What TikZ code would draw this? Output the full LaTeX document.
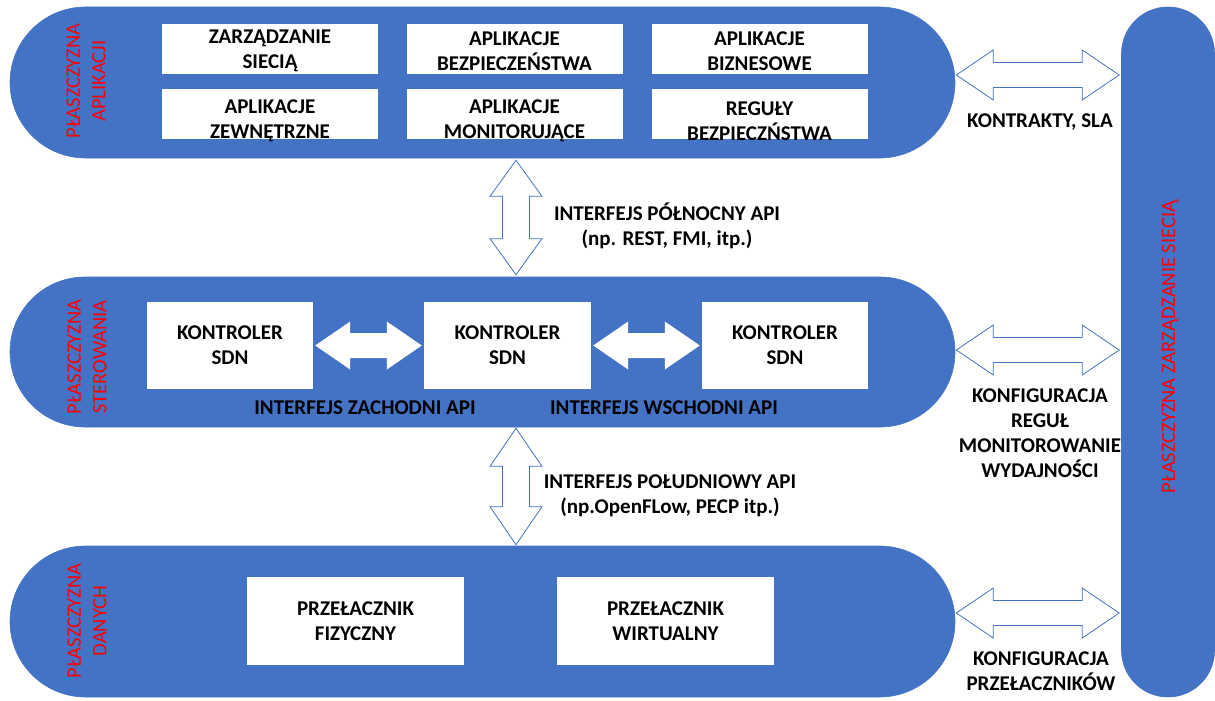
\documentclass[tikz,border=0pt]{standalone}
\usepackage{fontspec}
\setmainfont{Carlito}
\usetikzlibrary{shapes.misc,calc}
\definecolor{planeblue}{HTML}{4472C4}
\definecolor{planered}{HTML}{FF0000}

% horizontal double block arrow: style, left tip, right tip, head length, head half-height, shaft half-height
\newcommand\hdarrow[6]{%
  \path[#1] let \p1=(#2), \p2=(#3) in
    (\x1,\y1) -- (\x1+#4,\y1+#5) -- (\x1+#4,\y1+#6) -- (\x2-#4,\y1+#6)
    -- (\x2-#4,\y1+#5) -- (\x2,\y1) -- (\x2-#4,\y1-#5) -- (\x2-#4,\y1-#6)
    -- (\x1+#4,\y1-#6) -- (\x1+#4,\y1-#5) -- cycle;}
% vertical double block arrow: style, top tip, bottom tip, head length, head half-width, shaft half-width
\newcommand\vdarrow[6]{%
  \path[#1] let \p1=(#2), \p2=(#3) in
    (\x1,\y1) -- (\x1+#5,\y1-#4) -- (\x1+#6,\y1-#4) -- (\x1+#6,\y2+#4)
    -- (\x1+#5,\y2+#4) -- (\x1,\y2) -- (\x1-#5,\y2+#4) -- (\x1-#6,\y2+#4)
    -- (\x1-#6,\y1-#4) -- (\x1-#5,\y1-#4) -- cycle;}

\begin{document}
\begin{tikzpicture}[x=1pt,y=-1pt,
  plane/.style={rounded rectangle, fill=planeblue, draw=planeblue, line width=0.6pt, inner sep=0pt},
  wbox/.style={fill=white, inner sep=0pt},
  txt/.style={font=\fontsize{21}{25}\selectfont\bfseries, align=center, inner sep=0pt},
  planelbl/.style={font=\fontsize{20.5}{25.5}\selectfont, text=planered, align=center, rotate=90, inner sep=0pt},
  outarrow/.style={draw=planeblue, fill=white, line width=0.8pt, line join=miter},
  inarrow/.style={fill=white}]
\useasboundingbox (0,0) rectangle (1215,701);

% the four planes
\node[plane, minimum width=945pt, minimum height=151pt] (app)  at (482.5,82.5) {};
\node[plane, minimum width=945pt, minimum height=150pt] (ctrl) at (482.5,352) {};
\node[plane, minimum width=945pt, minimum height=151pt] (data) at (482.5,621.5) {};
\node[plane, minimum width=690pt, minimum height=93pt, rotate=90] (mgmt) at (1168,352) {};

% plane names
\node[planelbl] (appname)  at (86,81)  {PŁASZCZYZNA\\APLIKACJI};
\node[planelbl] (ctrlname) at (87,357) {PŁASZCZYZNA\\STEROWANIA};
\node[planelbl] (dataname) at (87,621) {PŁASZCZYZNA\\DANYCH};
\node[planelbl] (mgmtname) at (1170,347) {PŁASZCZYZNA ZARZĄDZANIE SIECIĄ};

% application plane
\foreach \n/\x/\y in {a11/270/49, a12/514.5/49, a13/759.5/49, a21/270/114, a22/514.5/114, a23/759.5/114}
  \node[wbox, minimum width=216pt, minimum height=50pt] (\n) at (\x,\y) {};
\node[txt] (a11t) at ($(a11)+(0,2)$) {ZARZĄDZANIE\\SIECIĄ};
\node[txt] (a12t) at ($(a12)+(0,2)$) {APLIKACJE\\BEZPIECZEŃSTWA};
\node[txt] (a13t) at ($(a13)+(0,2)$) {APLIKACJE\\BIZNESOWE};
\node[txt] (a21t) at ($(a21)+(0,7)$) {APLIKACJE\\ZEWNĘTRZNE};
\node[txt] (a22t) at ($(a22)+(0,7)$) {APLIKACJE\\MONITORUJĄCE};
\node[txt] (a23t) at ($(a23)+(0,7)$) {REGUŁY\\BEZPIECZŃSTWA};

% control plane
\node[wbox, minimum width=166pt, minimum height=87pt, txt] (c1) at (230,345.5) {KONTROLER\\SDN};
\node[wbox, minimum width=167pt, minimum height=87pt, txt] (c2) at (507.5,345.5) {KONTROLER\\SDN};
\node[wbox, minimum width=166pt, minimum height=87pt, txt] (c3) at (785,345.5) {KONTROLER\\SDN};
\hdarrow{inarrow}{$(c1.east)+(2,0)$}{$(c2.west)+(-2,0)$}{35pt}{24pt}{12.5pt}
\hdarrow{inarrow}{$(c2.east)+(2,0)$}{$(c3.west)+(-2,0)$}{35pt}{24pt}{12.5pt}
\node[txt] (west) at (365,408) {INTERFEJS ZACHODNI API};
\node[txt] (east) at (664,408) {INTERFEJS WSCHODNI API};

% data plane
\node[wbox, minimum width=217pt, minimum height=88pt, txt] (d1) at (355.5,621) {PRZEŁACZNIK\\FIZYCZNY};
\node[wbox, minimum width=217pt, minimum height=88pt, txt] (d2) at (665.5,621) {PRZEŁACZNIK\\WIRTUALNY};

% northbound and southbound interfaces
\coordinate (nx) at (516,0);
\vdarrow{outarrow}{$(app.south -| nx)+(0,2)$}{$(ctrl.north -| nx)+(0,-2)$}{36pt}{26pt}{13.5pt}
\vdarrow{outarrow}{$(ctrl.south -| nx)+(0,1)$}{$(data.north -| nx)+(0,-1)$}{38pt}{26pt}{13.5pt}
\node[txt] (north) at (667,226) {INTERFEJS PÓŁNOCNY API\\(np. REST, FMI, itp.)};
\node[txt] (south) at (670,496) {INTERFEJS POŁUDNIOWY API\\(np.OpenFLow, PECP itp.)};

% links to the management plane
\hdarrow{outarrow}{$(app.east)+(1,-7.5)$}{$(app.east -| mgmt.north)+(-2,-7.5)$}{37pt}{25pt}{12.5pt}
\hdarrow{outarrow}{$(ctrl.east)+(1,-2)$}{$(ctrl.east -| mgmt.north)+(-2,-2)$}{37pt}{25pt}{12.5pt}
\hdarrow{outarrow}{$(data.east)+(1,-8.5)$}{$(data.east -| mgmt.north)+(-2,-8.5)$}{37pt}{25pt}{12.5pt}
\node[txt] (sla)  at (1040,122.5) {KONTRAKTY, SLA};
\node[txt] (rules) at (1040,433.5) {KONFIGURACJA\\REGUŁ\\MONITOROWANIE\\WYDAJNOŚCI};
\node[txt] (swcfg) at (1041,671) {KONFIGURACJA\\PRZEŁACZNIKÓW};
\end{tikzpicture}
\end{document}
